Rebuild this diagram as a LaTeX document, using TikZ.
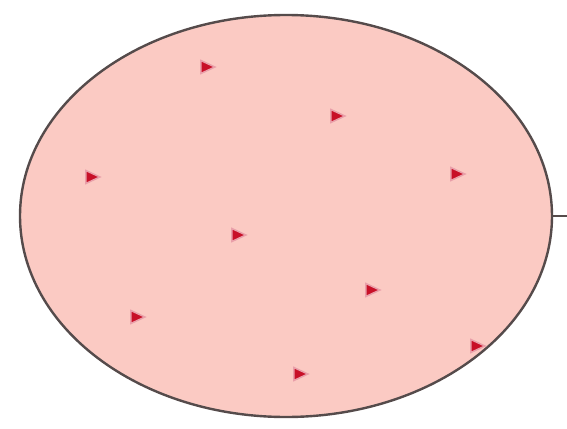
\documentclass[tikz,border=0pt]{standalone}
\usetikzlibrary{shapes.geometric}
\definecolor{cellpink}{RGB}{251,202,195}
\definecolor{cellrim}{RGB}{85,75,75}
\definecolor{markred}{RGB}{200,16,40}
\tikzset{
  cellbody/.style={ellipse, draw=cellrim, fill=cellpink, line width=2.4pt,
    minimum width=532pt, minimum height=402pt, inner sep=0pt},
  marker/.style={isosceles triangle, isosceles triangle stretches, fill=markred,
    draw=markred!40, line width=1.5pt, inner sep=0pt,
    minimum width=13pt, minimum height=14pt}
}
\begin{document}
\begin{tikzpicture}[x=1pt, y=-1pt]
    \useasboundingbox (0,0) rectangle (567,428);
    \node[cellbody] (cell) at (286,216) {};
    % markers inside the cell
    \foreach \n/\x/\y in {1/205/67, 2/335/116, 3/90/177, 4/455/174, 5/236/235,
                          6/370/290, 7/135/317, 8/298/374, 9/475/346}
        \node[marker] (m\n) at (\x,\y) {};
    \coordinate (tickend) at (567,216);
    \draw[cellrim, line width=1.8pt] (cell.east) -- (tickend);
\end{tikzpicture}
\end{document}
